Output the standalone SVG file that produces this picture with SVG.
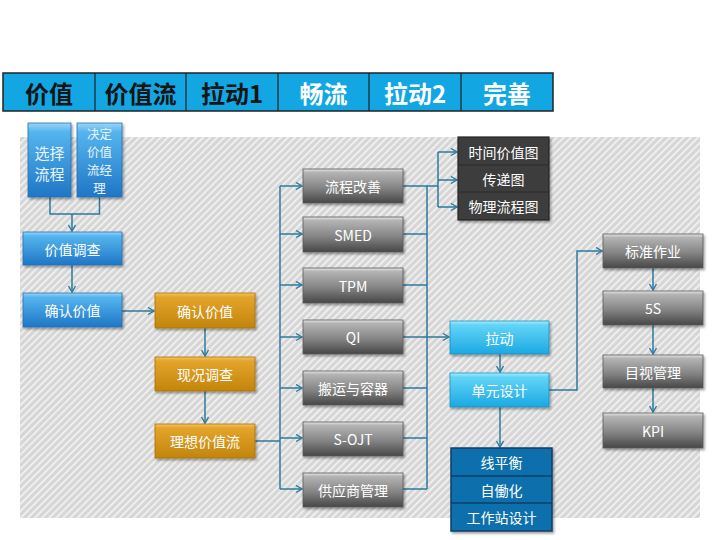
<svg xmlns="http://www.w3.org/2000/svg" width="720" height="540" viewBox="0 0 720 540">
<defs>
<pattern id="hatch" width="5" height="5" patternUnits="userSpaceOnUse" patternTransform="rotate(45)">
<rect width="5" height="5" fill="#d6d6d6"/>
<rect width="1.6" height="5" fill="#f4f4f4"/>
</pattern>
<linearGradient id="gGray" x1="0" y1="0" x2="0" y2="1">
<stop offset="0" stop-color="#e6e6e6"/>
<stop offset="0.1" stop-color="#b4b4b4"/>
<stop offset="0.55" stop-color="#858585"/>
<stop offset="1" stop-color="#474747"/>
</linearGradient>
<linearGradient id="gBlue" x1="0" y1="0" x2="0" y2="1">
<stop offset="0" stop-color="#9ad6fa"/>
<stop offset="0.12" stop-color="#55b5ee"/>
<stop offset="1" stop-color="#1f76c6"/>
</linearGradient>
<linearGradient id="gOrange" x1="0" y1="0" x2="0" y2="1">
<stop offset="0" stop-color="#f6c45a"/>
<stop offset="0.12" stop-color="#e3a42a"/>
<stop offset="1" stop-color="#c2850c"/>
</linearGradient>
<linearGradient id="gCyan" x1="0" y1="0" x2="0" y2="1">
<stop offset="0" stop-color="#a6eeff"/>
<stop offset="0.12" stop-color="#62d4f7"/>
<stop offset="1" stop-color="#1ba9e2"/>
</linearGradient>
<filter id="sh" x="-10%" y="-10%" width="130%" height="140%">
<feDropShadow dx="1.5" dy="2" stdDeviation="1.2" flood-color="#000" flood-opacity="0.35"/>
</filter>
<marker id="ar" markerWidth="10" markerHeight="10" refX="7" refY="4" orient="auto" markerUnits="userSpaceOnUse">
<path d="M1,0.5 L7,4 L1,7.5" fill="none" stroke="#2d7a9e" stroke-width="1.4"/>
</marker>
<style>
.t{font-family:"Noto Sans CJK SC","Liberation Sans",sans-serif;text-anchor:middle;dominant-baseline:central}
.h{font-size:24px;font-weight:bold}
.n{font-size:14px;fill:#ffffff}
.m{font-size:15px;fill:#eaf6ff}
.s{font-size:12.5px;fill:#eaf6ff}
.gray{fill:url(#gGray);stroke:#5a5a5a;stroke-width:0.8;filter:url(#sh)}
.blue{fill:url(#gBlue);stroke:#2a6fb0;stroke-width:0.8;filter:url(#sh)}
.orange{fill:url(#gOrange);stroke:#a8720a;stroke-width:0.8;filter:url(#sh)}
.cyan{fill:url(#gCyan);stroke:#1f8fc0;stroke-width:0.8;filter:url(#sh)}
.c{fill:none;stroke:#2d7a9e;stroke-width:1.5}
.a{marker-end:url(#ar)}
</style>
</defs>
<rect x="0" y="0" width="720" height="540" fill="#ffffff"/>
<rect x="20" y="137" width="680" height="381" fill="url(#hatch)"/>

<g id="header">
<rect x="3" y="73" width="550" height="38" fill="#12a6e2" stroke="#222" stroke-width="1.5"/>
<path d="M95,73 V111 M186,73 V111 M278,73 V111 M369,73 V111 M461,73 V111" stroke="#222" stroke-width="1.2"/>
<text class="t h" x="49" y="92" fill="#151515">价值</text>
<text class="t h" x="140.5" y="92" fill="#151515">价值流</text>
<text class="t h" x="232" y="92" fill="#151515">拉动1</text>
<text class="t h" x="323.5" y="92" fill="#ffffff">畅流</text>
<text class="t h" x="415" y="92" fill="#ffffff">拉动2</text>
<text class="t h" x="507" y="92" fill="#ffffff">完善</text>
</g>

<g id="connectors">
<path class="c" d="M50,197 V214 H99.5 V197"/>
<path class="c a" d="M72,214 V231"/>
<path class="c a" d="M72,265 V292"/>
<path class="c a" d="M122,311 H154"/>
<path class="c a" d="M205,328 V356"/>
<path class="c a" d="M205,391 V423"/>
<path class="c" d="M255,441 H280"/>
<path class="c" d="M280,186 V489"/>
<path class="c a" d="M280,186 H302"/>
<path class="c a" d="M280,234 H302"/>
<path class="c a" d="M280,285 H302"/>
<path class="c a" d="M280,337 H302"/>
<path class="c a" d="M280,388 H302"/>
<path class="c a" d="M280,438 H302"/>
<path class="c a" d="M280,489 H302"/>
<path class="c" d="M403,186 H438 M403,234 H427 M403,285 H427 M403,388 H427 M403,438 H427 M403,489 H427 M427,186 V489"/>
<path class="c" d="M438,152 V207"/>
<path class="c a" d="M438,152 H457"/>
<path class="c a" d="M438,180 H457"/>
<path class="c a" d="M438,207 H457"/>
<path class="c a" d="M403,337 H449"/>
<path class="c a" d="M500,354 V372"/>
<path class="c a" d="M500,407 V447"/>
<path class="c a" d="M549,390 H577 V251 H602"/>
<path class="c a" d="M653,268 V290"/>
<path class="c a" d="M653,325 V354"/>
<path class="c a" d="M653,388 V412"/>
</g>

<g id="n-xuanze"><rect class="blue" x="28" y="123" width="43" height="74"/>
<text class="t m" x="49.5" y="152">选择</text><text class="t m" x="49.5" y="173">流程</text></g>
<g id="n-jueding"><rect class="blue" x="77" y="123" width="45" height="74"/>
<text class="t s" x="99.5" y="133">决定</text><text class="t s" x="99.5" y="151">价值</text><text class="t s" x="99.5" y="169">流经</text><text class="t s" x="99.5" y="187">理</text></g>
<g id="n-jiazhidiaocha"><rect class="blue" x="23" y="232" width="99" height="33"/>
<text class="t n" x="72.5" y="248.5">价值调查</text></g>
<g id="n-queren1"><rect class="blue" x="23" y="293" width="99" height="34"/>
<text class="t n" x="72.5" y="310">确认价值</text></g>
<g id="n-queren2"><rect class="orange" x="155" y="293" width="100" height="35"/>
<text class="t n" x="205" y="310.5" fill="#fff6e0">确认价值</text></g>
<g id="n-xiankuang"><rect class="orange" x="155" y="357" width="100" height="34"/>
<text class="t n" x="205" y="374">现况调查</text></g>
<g id="n-lixiang"><rect class="orange" x="155" y="424" width="100" height="34"/>
<text class="t n" x="205" y="441">理想价值流</text></g>

<g id="n-liucheng"><rect class="gray" x="303" y="169" width="100" height="34"/>
<text class="t n" x="353" y="186">流程改善</text></g>
<g id="n-smed"><rect class="gray" x="303" y="217" width="100" height="35"/>
<text class="t n" x="353" y="234.5">SMED</text></g>
<g id="n-tpm"><rect class="gray" x="303" y="268" width="100" height="35"/>
<text class="t n" x="353" y="285.5">TPM</text></g>
<g id="n-qi"><rect class="gray" x="303" y="320" width="100" height="34"/>
<text class="t n" x="353" y="337">QI</text></g>
<g id="n-banyun"><rect class="gray" x="303" y="371" width="100" height="34"/>
<text class="t n" x="353" y="388">搬运与容器</text></g>
<g id="n-sojt"><rect class="gray" x="303" y="422" width="100" height="34"/>
<text class="t n" x="353" y="439">S-OJT</text></g>
<g id="n-gongying"><rect class="gray" x="303" y="473" width="100" height="34"/>
<text class="t n" x="353" y="490">供应商管理</text></g>

<g id="n-tools">
<rect x="458" y="137" width="91" height="83" fill="#3e3e3e" stroke="#262626" stroke-width="1.2" filter="url(#sh)"/>
<path d="M458,165 H549 M458,192 H549" stroke="#2a2a2a" stroke-width="1.2"/>
<text class="t n" x="503.5" y="151.5">时间价值图</text>
<text class="t n" x="503.5" y="178.5">传递图</text>
<text class="t n" x="503.5" y="206">物理流程图</text>
</g>

<g id="n-ladong"><rect class="cyan" x="450" y="321" width="99" height="33"/>
<text class="t n" x="499.5" y="337.5" fill="#e6f8ff">拉动</text></g>
<g id="n-danyuan"><rect class="cyan" x="450" y="373" width="99" height="34"/>
<text class="t n" x="499.5" y="390" fill="#e6f8ff">单元设计</text></g>

<g id="n-cell">
<rect x="451" y="448" width="101" height="83" fill="#1170ad" stroke="#0b3f66" stroke-width="1.5" filter="url(#sh)"/>
<path d="M451,476 H552 M451,503 H552" stroke="#0b3f66" stroke-width="1.3"/>
<text class="t n" x="501.5" y="462">线平衡</text>
<text class="t n" x="501.5" y="489.5">自働化</text>
<text class="t n" x="501.5" y="517">工作站设计</text>
</g>

<g id="n-biaozhun"><rect class="gray" x="603" y="234" width="100" height="34"/>
<text class="t n" x="653" y="251">标准作业</text></g>
<g id="n-5s"><rect class="gray" x="603" y="291" width="100" height="34"/>
<text class="t n" x="653" y="308">5S</text></g>
<g id="n-mushi"><rect class="gray" x="603" y="355" width="100" height="33"/>
<text class="t n" x="653" y="371.5">目视管理</text></g>
<g id="n-kpi"><rect class="gray" x="603" y="413" width="100" height="35"/>
<text class="t n" x="653" y="430.5">KPI</text></g>
</svg>
